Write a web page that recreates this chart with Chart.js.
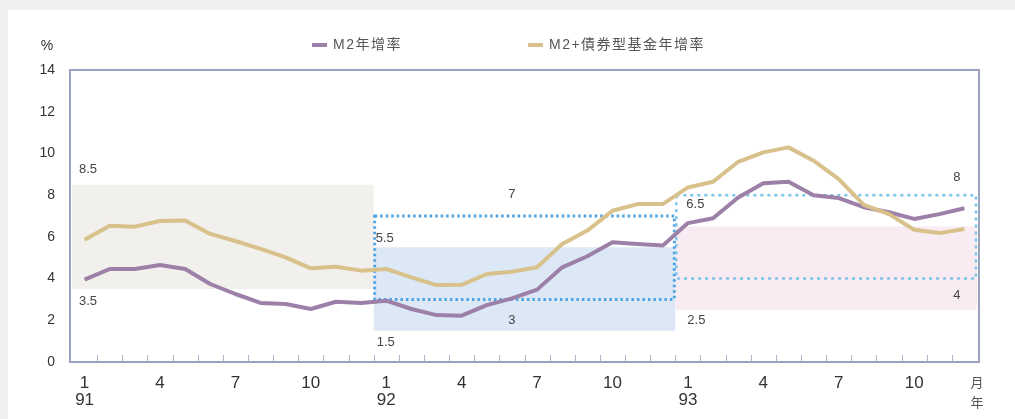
<!DOCTYPE html>
<html>
<head>
<meta charset="utf-8">
<script src="https://cdn.jsdelivr.net/npm/chart.js@4/dist/chart.umd.min.js"></script>
<style>
  html, body { margin: 0; padding: 0; background: #eef0f2; }
  #wrap { position: absolute; left: 8px; top: 10px; width: 1007px; height: 409px; background: #fff; }
</style>
</head>
<body>
<div id="wrap"><canvas id="m2Chart" width="1007" height="409"></canvas></div>
<script>
// ==========================================
// DATA  (91年1月 ~ 93年12月)
// ==========================================

const years = ["91", "92", "93"];
const monthsPerYear = 12;

const m2Growth = [
    3.95, 4.46, 4.46, 4.65, 4.46, 3.74, 3.26, 2.83, 2.78, 2.54, 2.89, 2.83,
    2.94, 2.54, 2.25, 2.22, 2.73, 3.05, 3.47, 4.54, 5.07, 5.74, 5.66, 5.58,
    6.66, 6.89, 7.89, 8.57, 8.64, 8.00, 7.86, 7.42, 7.18, 6.86, 7.09, 7.37
];

const m2BondGrowth = [
    5.86, 6.53, 6.49, 6.76, 6.78, 6.14, 5.80, 5.42, 5.02, 4.49, 4.57, 4.38,
    4.46, 4.06, 3.69, 3.70, 4.22, 4.33, 4.54, 5.66, 6.30, 7.25, 7.57, 7.57,
    8.37, 8.64, 9.60, 10.05, 10.29, 9.65, 8.77, 7.53, 7.09, 6.34, 6.18, 6.38
];

// 貨幣目標區 (M2)
const m2TargetLow  = [3.5, 1.5, 2.5];
const m2TargetHigh = [8.5, 5.5, 6.5];

// 參考區 (M2+債券型基金), 91年無
const m2BondRefLow  = [null, 3, 4];
const m2BondRefHigh = [null, 7, 8];

const yTicks = [0, 2, 4, 6, 8, 10, 12, 14];

const purple = "#9c80a8";
const gold = "#d9c18b";
const frameColor = "#9aa2bf";
const textColor = "#333";
const fontFamily = "'Liberation Sans', Arial, 'Noto Sans CJK TC', sans-serif";

// ==========================================
// TARGET ZONES + FRAME
// ==========================================

const zoneFills = ["#f1f0ed", "#dce8f5", "#f8ebf1"];
const refColors = [null, "#4fa3e3", "#7cc3e8"];

const zonePlugin = {
    id: "zones",
    beforeDatasetsDraw(chart) {
        const {ctx, chartArea, scales: {x, y}} = chart;
        ctx.save();
        ctx.beginPath();
        ctx.rect(chartArea.left, chartArea.top, chartArea.width, chartArea.height);
        ctx.clip();

        years.forEach((yr, i) => {
            const x0 = x.getPixelForValue(i * monthsPerYear - 0.5);
            const x1 = x.getPixelForValue((i + 1) * monthsPerYear - 0.5);
            const yTop = y.getPixelForValue(m2TargetHigh[i]);
            const yBot = y.getPixelForValue(m2TargetLow[i]);
            ctx.fillStyle = zoneFills[i];
            ctx.fillRect(x0, yTop, x1 - x0, yBot - yTop);
        });

        years.forEach((yr, i) => {
            if (m2BondRefHigh[i] == null) return;
            const x0 = x.getPixelForValue(i * monthsPerYear - 0.5);
            const x1 = x.getPixelForValue((i + 1) * monthsPerYear - 0.5);
            const yTop = y.getPixelForValue(m2BondRefHigh[i]);
            const yBot = y.getPixelForValue(m2BondRefLow[i]);
            ctx.strokeStyle = refColors[i];
            ctx.lineWidth = i === 1 ? 3 : 2.5;
            ctx.setLineDash(i === 1 ? [2.5, 3] : [3, 4]);
            ctx.strokeRect(x0 + 1, yTop, x1 - x0 - 2, yBot - yTop);
        });
        ctx.setLineDash([]);
        ctx.restore();

        // zone labels
        ctx.save();
        ctx.font = "13px " + fontFamily;
        ctx.fillStyle = "#444";
        ctx.textBaseline = "middle";
        years.forEach((yr, i) => {
            const x0 = x.getPixelForValue(i * monthsPerYear - 0.5);
            ctx.textAlign = "left";
            const upOff = i === 1 ? -9 : (i === 0 ? -15 : -22);
            const dnOff = i === 2 ? 11 : 12;
            ctx.fillText(String(m2TargetHigh[i]), x0 + (i === 0 ? 7 : 2 + 9 * (i === 2)), y.getPixelForValue(m2TargetHigh[i]) + upOff);
            ctx.fillText(String(m2TargetLow[i]), x0 + (i === 0 ? 7 : 3 + 9 * (i === 2)), y.getPixelForValue(m2TargetLow[i]) + dnOff);
            if (m2BondRefHigh[i] != null) {
                const cx = i === 1 ? x.getPixelForValue(i * monthsPerYear + 5) : x.getPixelForValue((i + 1) * monthsPerYear - 1.3);
                ctx.textAlign = "center";
                ctx.fillText(String(m2BondRefHigh[i]), cx, y.getPixelForValue(m2BondRefHigh[i]) - (i === 1 ? 22 : 18));
                ctx.fillText(String(m2BondRefLow[i]), cx, y.getPixelForValue(m2BondRefLow[i]) + (i === 1 ? 21 : 17));
            }
        });
        ctx.restore();
    },
    afterDraw(chart) {
        const {ctx, chartArea, scales: {x}} = chart;
        ctx.save();
        // month tick marks, inside the frame
        ctx.strokeStyle = "#aeb4cb";
        ctx.lineWidth = 1;
        for (let i = 0; i < years.length * monthsPerYear - 1; i++) {
            const px = Math.round(x.getPixelForValue(i + 0.5)) + 0.5;
            ctx.beginPath();
            ctx.moveTo(px, chartArea.bottom);
            ctx.lineTo(px, chartArea.bottom - 7);
            ctx.stroke();
        }
        // frame
        ctx.strokeStyle = frameColor;
        ctx.lineWidth = 2;
        ctx.strokeRect(chartArea.left, chartArea.top, chartArea.width, chartArea.height);

        // unit text
        ctx.fillStyle = textColor;
        ctx.font = "14px " + fontFamily;
        ctx.textAlign = "center";
        ctx.textBaseline = "middle";
        ctx.fillText("%", 39, 36);
        ctx.fillStyle = "#555";
        ctx.font = "13px " + fontFamily;
        ctx.fillText("月", 969, 373);
        ctx.fillText("年", 969, 393);

        // legend
        const legend = [
            {text: "M2年增率", color: purple, x: 304},
            {text: "M2+債券型基金年增率", color: gold, x: 520}
        ];
        ctx.font = "14px " + fontFamily;
        ctx.textAlign = "left";
        ctx.fillStyle = "#555";
        ctx.letterSpacing = "1.5px";
        legend.forEach(item => {
            ctx.strokeStyle = item.color;
            ctx.lineWidth = 4;
            ctx.beginPath();
            ctx.moveTo(item.x, 35);
            ctx.lineTo(item.x + 15, 35);
            ctx.stroke();
            ctx.fillText(item.text, item.x + 21, 35);
        });
        ctx.restore();
    }
};

// ==========================================
// CHART
// ==========================================

const points = arr => arr.map((v, i) => ({x: i, y: v}));

const ctx = document.getElementById("m2Chart").getContext("2d");

const chart = new Chart(ctx, {
    type: "line",
    data: {
        datasets: [
            {
                label: "M2+債券型基金年增率",
                data: points(m2BondGrowth),
                borderColor: gold,
                borderWidth: 4,
                pointRadius: 0,
                tension: 0,
                borderJoinStyle: "round"
            },
            {
                label: "M2年增率",
                data: points(m2Growth),
                borderColor: purple,
                borderWidth: 4,
                pointRadius: 0,
                tension: 0,
                borderJoinStyle: "round"
            }
        ]
    },
    options: {
        responsive: false,
        devicePixelRatio: 1,
        animation: false,
        layout: {padding: {top: 60, right: 36, left: 0, bottom: 0}},
        plugins: {
            legend: {display: false},
            tooltip: {enabled: false}
        },
        scales: {
            x: {
                type: "linear",
                min: -0.58,
                max: 35.58,
                afterFit: s => { s.height = 57; },
                afterBuildTicks: s => {
                    s.ticks = m2Growth.map((v, i) => ({value: i}));
                },
                grid: {display: false, drawTicks: false},
                border: {display: false},
                ticks: {
                    autoSkip: false,
                    maxRotation: 0,
                    padding: 12,
                    color: textColor,
                    font: {family: fontFamily, size: 17, lineHeight: 1.05},
                    callback: function (value) {
                        if (value % 3 !== 0) return "";
                        const month = value % monthsPerYear + 1;
                        if (month === 1) return [String(month), years[value / monthsPerYear]];
                        return String(month);
                    }
                }
            },
            y: {
                min: 0,
                max: 14,
                afterFit: s => { s.width = 62; },
                afterBuildTicks: s => {
                    s.ticks = yTicks.map(v => ({value: v}));
                },
                grid: {display: false, drawTicks: false},
                border: {display: false},
                ticks: {
                    padding: 15,
                    color: textColor,
                    font: {family: fontFamily, size: 14}
                }
            }
        }
    },
    plugins: [zonePlugin]
});
</script>
</body>
</html>
